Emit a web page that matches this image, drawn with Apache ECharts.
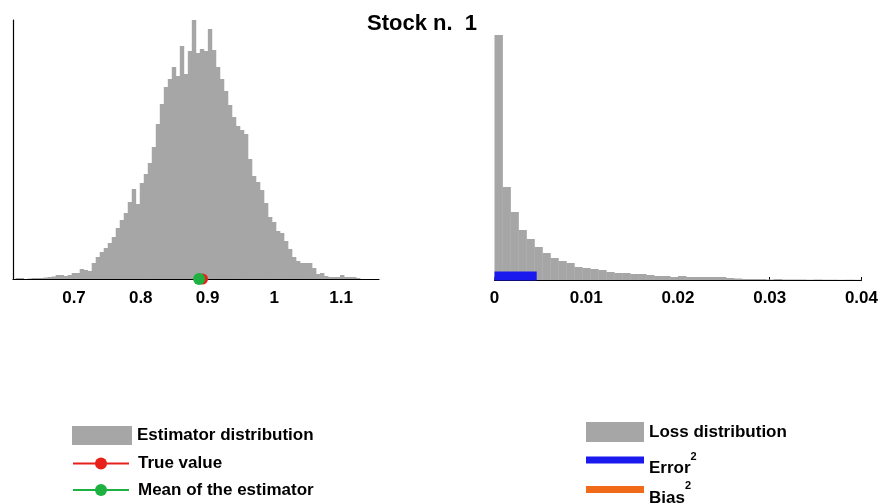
<!DOCTYPE html>
<html>
<head>
<meta charset="utf-8">
<script src="https://cdn.jsdelivr.net/npm/echarts@6/dist/echarts.min.js"></script>
<style>
  html, body { margin: 0; padding: 0; background: #fff; }
  #chart { width: 881px; height: 504px; }
</style>
</head>
<body>
<div id="chart"></div>
<script>
// Estimator histogram: equal-width bins starting at estBinStart
const estBinStart = 0.6125;
const estBinWidth = 0.006;
const estCounts = [
  1, 1, 0, 0.5, 1, 1, 1, 1.5, 2, 2.5,
  4, 4, 3, 4, 6, 6, 10, 9, 8, 16,
  22, 27, 31, 36, 42, 51, 59, 66, 77, 90,
  75, 96, 105, 116, 132, 155, 175, 192, 200, 212,
  203, 233, 205, 228, 259, 226, 230, 228, 250, 229,
  212, 200, 188, 174, 162, 153, 149, 145, 120, 103,
  97, 89, 76, 62, 57, 48, 46, 38, 30, 22,
  18, 16, 16, 16, 11, 5, 6, 3, 2, 2,
  2, 4, 2, 2, 2, 1
];
const estTicks = [0.7, 0.8, 0.9, 1, 1.1];
const trueValue = 0.8925;
const estimatorMean = 0.8874;

// Loss histogram: equal-width bins starting at 0
const lossBinWidth = 0.00087;
const lossCounts = [
  245, 93, 68, 50, 41, 33, 27, 22, 19, 17,
  13, 12, 11, 10, 8, 7, 7, 6, 6, 5,
  4, 4, 3, 4, 3, 3, 3, 3, 3, 2,
  1.5, 1, 1, 1, 0.5, 1, 0.5, 0.5, 0.5, 0.3,
  0.5, 0.3, 0.3, 0.2, 0.3, 0.2
];
const lossTicks = [0, 0.01, 0.02, 0.03, 0.04];
const errorSq = 0.0046;
const biasSq = 0.00003;

const GRAY = '#a6a6a6';
const FONT = '"Liberation Sans", Arial, sans-serif';
const barLevel = 4; // height of the Error^2 / Bias^2 strips above the loss axis

const estData = estCounts.map((c, i) => [
  estBinStart + i * estBinWidth,
  estBinStart + (i + 1) * estBinWidth,
  c
]);
const lossData = lossCounts.map((c, i) => [
  i * lossBinWidth,
  (i + 1) * lossBinWidth,
  c
]);

function renderBin(params, api) {
  const p0 = api.coord([api.value(0), 0]);
  const p1 = api.coord([api.value(1), api.value(2)]);
  return {
    type: 'rect',
    shape: { x: p0[0], y: p1[1], width: p1[0] - p0[0] + 0.4, height: p0[1] - p1[1] },
    style: { fill: api.visual('color') }
  };
}

const labelStyle = { fontFamily: FONT, fontWeight: 'bold', fontSize: 17, color: '#000' };
const legendBase = {
  orient: 'vertical',
  padding: 0,
  selectedMode: false,
  textStyle: { fontFamily: FONT, fontWeight: 'bold', fontSize: 17, color: '#000' }
};
const superRich = {
  b: { fontFamily: FONT, fontWeight: 'bold', fontSize: 17, lineHeight: 26, verticalAlign: 'bottom' },
  s: { fontFamily: FONT, fontWeight: 'bold', fontSize: 11, lineHeight: 26, verticalAlign: 'top' }
};

const chart = echarts.init(document.getElementById('chart'), null, { renderer: 'canvas' });
chart.setOption({
  animation: false,
  backgroundColor: '#fff',
  title: {
    text: 'Stock n.  1',
    left: 367,
    top: 13,
    padding: 0,
    textStyle: { fontFamily: FONT, fontWeight: 'bold', fontSize: 22, color: '#000' }
  },
  grid: [
    { left: 13, right: 502, top: 20, bottom: 225 },
    { left: 494.5, right: 18.5, top: 35, bottom: 224 }
  ],
  xAxis: [
    {
      type: 'value', gridIndex: 0, min: 0.6086, max: 1.1569,
      axisLine: { lineStyle: { color: '#000', width: 1.2 } },
      axisTick: { inside: true, length: 3, customValues: estTicks, lineStyle: { color: '#000' } },
      axisLabel: Object.assign({ margin: 11, customValues: estTicks }, labelStyle),
      splitLine: { show: false }
    },
    {
      type: 'value', gridIndex: 1, min: 0, max: 0.04, interval: 0.01,
      axisLine: { lineStyle: { color: '#000', width: 1.2 } },
      axisTick: { inside: true, length: 3, lineStyle: { color: '#000' } },
      axisLabel: Object.assign({ margin: 10, customValues: lossTicks }, labelStyle),
      splitLine: { show: false }
    }
  ],
  yAxis: [
    {
      type: 'value', gridIndex: 0, min: 0, max: 259,
      axisLine: { show: true, lineStyle: { color: '#000', width: 1.2 } },
      axisTick: { show: false }, axisLabel: { show: false }, splitLine: { show: false }
    },
    {
      type: 'value', gridIndex: 1, min: 0, max: 245,
      axisLine: { show: false }, axisTick: { show: false },
      axisLabel: { show: false }, splitLine: { show: false }
    }
  ],
  legend: [
    Object.assign({}, legendBase, {
      data: [{ name: 'Estimator distribution', icon: 'rect' }],
      left: 72, top: 426, itemWidth: 60, itemHeight: 19
    }),
    Object.assign({}, legendBase, {
      data: ['True value'],
      left: 72, top: 455, itemWidth: 56, itemHeight: 15,
      textStyle: Object.assign({}, legendBase.textStyle, { padding: [0, 0, 0, 4] })
    }),
    Object.assign({}, legendBase, {
      data: ['Mean of the estimator'],
      left: 72, top: 481.5, itemWidth: 56, itemHeight: 15,
      textStyle: Object.assign({}, legendBase.textStyle, { padding: [0, 0, 0, 4] })
    }),
    Object.assign({}, legendBase, {
      data: [{ name: 'Loss distribution', icon: 'rect' }],
      left: 586, top: 422, itemWidth: 58, itemHeight: 20
    }),
    Object.assign({}, legendBase, {
      data: [{ name: 'Error^2', icon: 'rect' }],
      left: 586, top: 451, itemWidth: 58, itemHeight: 7,
      formatter: () => '{b|Error}{s|2}',
      textStyle: Object.assign({}, legendBase.textStyle, { padding: [8, 0, 0, 0], rich: superRich })
    }),
    Object.assign({}, legendBase, {
      data: [{ name: 'Bias^2', icon: 'rect' }],
      left: 586, top: 480.5, itemWidth: 58, itemHeight: 7,
      formatter: () => '{b|Bias}{s|2}',
      textStyle: Object.assign({}, legendBase.textStyle, { padding: [8, 0, 0, 0], rich: superRich })
    })
  ],
  series: [
    {
      name: 'Estimator distribution',
      type: 'custom',
      xAxisIndex: 0, yAxisIndex: 0,
      renderItem: renderBin,
      itemStyle: { color: GRAY },
      encode: { x: [0, 1], y: 2 },
      data: estData,
      z: 2
    },
    {
      name: 'True value',
      type: 'line',
      xAxisIndex: 0, yAxisIndex: 0,
      data: [[trueValue, 0]],
      symbol: 'circle', symbolSize: 11,
      itemStyle: { color: '#e8201a' },
      lineStyle: { color: '#e8201a', width: 1 },
      clip: false,
      z: 5
    },
    {
      name: 'Mean of the estimator',
      type: 'line',
      xAxisIndex: 0, yAxisIndex: 0,
      data: [[estimatorMean, 0]],
      symbol: 'circle', symbolSize: 12,
      itemStyle: { color: '#1eb040' },
      lineStyle: { color: '#1eb040', width: 1 },
      clip: false,
      z: 6
    },
    {
      name: 'Loss distribution',
      type: 'custom',
      xAxisIndex: 1, yAxisIndex: 1,
      renderItem: renderBin,
      itemStyle: { color: GRAY },
      encode: { x: [0, 1], y: 2 },
      data: lossData,
      z: 2
    },
    {
      name: 'Bias^2',
      type: 'line',
      xAxisIndex: 1, yAxisIndex: 1,
      data: [[0, barLevel], [biasSq, barLevel]],
      symbol: 'none',
      itemStyle: { color: '#f06a1a' },
      lineStyle: { color: '#f06a1a', width: 9, cap: 'butt' },
      clip: false,
      z: 5
    },
    {
      name: 'Error^2',
      type: 'line',
      xAxisIndex: 1, yAxisIndex: 1,
      data: [[0, barLevel], [errorSq, barLevel]],
      symbol: 'none',
      itemStyle: { color: '#1a1aee' },
      lineStyle: { color: '#1a1aee', width: 9, cap: 'butt' },
      clip: false,
      z: 6
    }
  ]
});
</script>
</body>
</html>
